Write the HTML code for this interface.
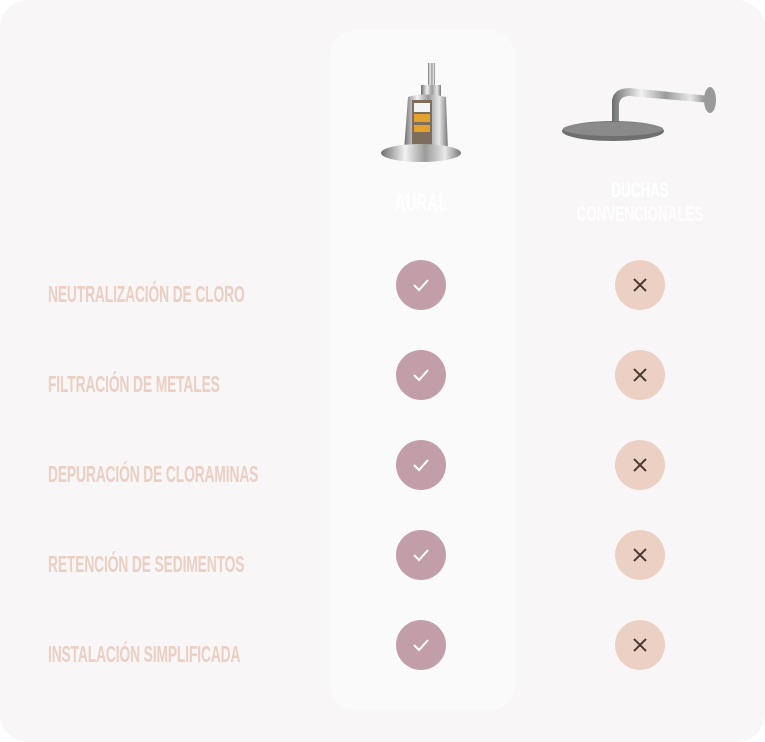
<!DOCTYPE html>
<html><head><meta charset="utf-8"><style>
html,body{margin:0;padding:0;background:#fff;width:765px;height:742px;overflow:hidden}
.card{position:absolute;left:0;top:0;width:765px;height:742px;background:#f9f6f7;border-radius:28px}
.col{position:absolute;left:330px;top:30px;width:185px;height:680px;background:#fbfafa;border-radius:26px}
.lbl{position:absolute;left:48px;font-family:"Liberation Sans",sans-serif;font-weight:bold;font-size:23px;color:#ebcfc3;letter-spacing:-0.2px;transform:scaleX(0.6);transform-origin:left center;white-space:nowrap;line-height:23px}
.c{position:absolute;width:50px;height:50px;border-radius:50%}
.ok{background:#c29fa8;left:396px}
.no{background:#ecd0c3;left:615px}
.hd{position:absolute;font-family:"Liberation Sans",sans-serif;font-weight:bold;color:#fff;text-align:center;white-space:nowrap}
</style></head><body>
<div class="card"></div>
<div class="col"></div>
<svg style="position:absolute;left:0;top:0" width="765" height="742">
 <defs>
  <linearGradient id="m" x1="0" x2="1"><stop offset="0" stop-color="#6e6e6e"/><stop offset=".3" stop-color="#f2f2f2"/><stop offset=".55" stop-color="#9a9a9a"/><stop offset=".8" stop-color="#e8e8e8"/><stop offset="1" stop-color="#777"/></linearGradient>
 </defs>
 <rect x="428" y="63" width="7" height="24" fill="url(#m)"/>
 <rect x="421" y="85" width="20" height="12" fill="url(#m)"/>
 <path d="M408 97 Q425 92 446 97 L448 150 L404 150 Z" fill="url(#m)"/>
 <rect x="412" y="100" width="20" height="48" fill="#7d6d5c"/>
 <rect x="414" y="103" width="16" height="9" fill="#f4f4f4"/>
 <rect x="414" y="114" width="16" height="8" fill="#e2a22d"/>
 <rect x="414" y="125" width="16" height="7" fill="#e2a22d"/>
 <ellipse cx="421" cy="153" rx="40" ry="9" fill="url(#m)"/>
 <path d="M612 122 L612 100 Q614 88 630 88 L710 96 L710 103 L630 96 Q620 96 619 104 L619 122 Z" fill="url(#m)"/>
 <ellipse cx="710" cy="100" rx="6" ry="13" fill="#9a9a9a"/>
 <ellipse cx="613" cy="131" rx="51" ry="10" fill="#6f6f6f"/>
 <ellipse cx="613" cy="129" rx="50" ry="7" fill="#8a8a8a"/>
</svg>
<div class="hd" style="left:321px;top:190px;width:200px;font-size:25px;line-height:26px;transform:scaleX(0.6)">AURAL</div>
<div class="hd" style="left:540px;top:179px;width:200px;font-size:21px;line-height:24px;transform:scaleX(0.64)">DUCHAS<br>CONVENCIONALES</div>

<div class="lbl" style="top:283px">NEUTRALIZACIÓN DE CLORO</div>
<div class="lbl" style="top:373px">FILTRACIÓN DE METALES</div>
<div class="lbl" style="top:463px">DEPURACIÓN DE CLORAMINAS</div>
<div class="lbl" style="top:553px">RETENCIÓN DE SEDIMENTOS</div>
<div class="lbl" style="top:643px">INSTALACIÓN SIMPLIFICADA</div>

<div class="c ok" style="top:260px"></div><div class="c no" style="top:260px"></div>
<div class="c ok" style="top:350px"></div><div class="c no" style="top:350px"></div>
<div class="c ok" style="top:440px"></div><div class="c no" style="top:440px"></div>
<div class="c ok" style="top:530px"></div><div class="c no" style="top:530px"></div>
<div class="c ok" style="top:620px"></div><div class="c no" style="top:620px"></div>
<svg style="position:absolute;left:0;top:0" width="765" height="742" fill="none" stroke-width="2">
 <g stroke="#fff">
  <path d="M414 285 L419 290 L428 280"/>
  <path d="M414 375 L419 380 L428 370"/>
  <path d="M414 465 L419 470 L428 460"/>
  <path d="M414 555 L419 560 L428 550"/>
  <path d="M414 645 L419 650 L428 640"/>
 </g>
 <g stroke="#4a3a32">
  <path d="M634 279 L646 291 M646 279 L634 291"/>
  <path d="M634 369 L646 381 M646 369 L634 381"/>
  <path d="M634 459 L646 471 M646 459 L634 471"/>
  <path d="M634 549 L646 561 M646 549 L634 561"/>
  <path d="M634 639 L646 651 M646 639 L634 651"/>
 </g>
</svg>
</body></html>
